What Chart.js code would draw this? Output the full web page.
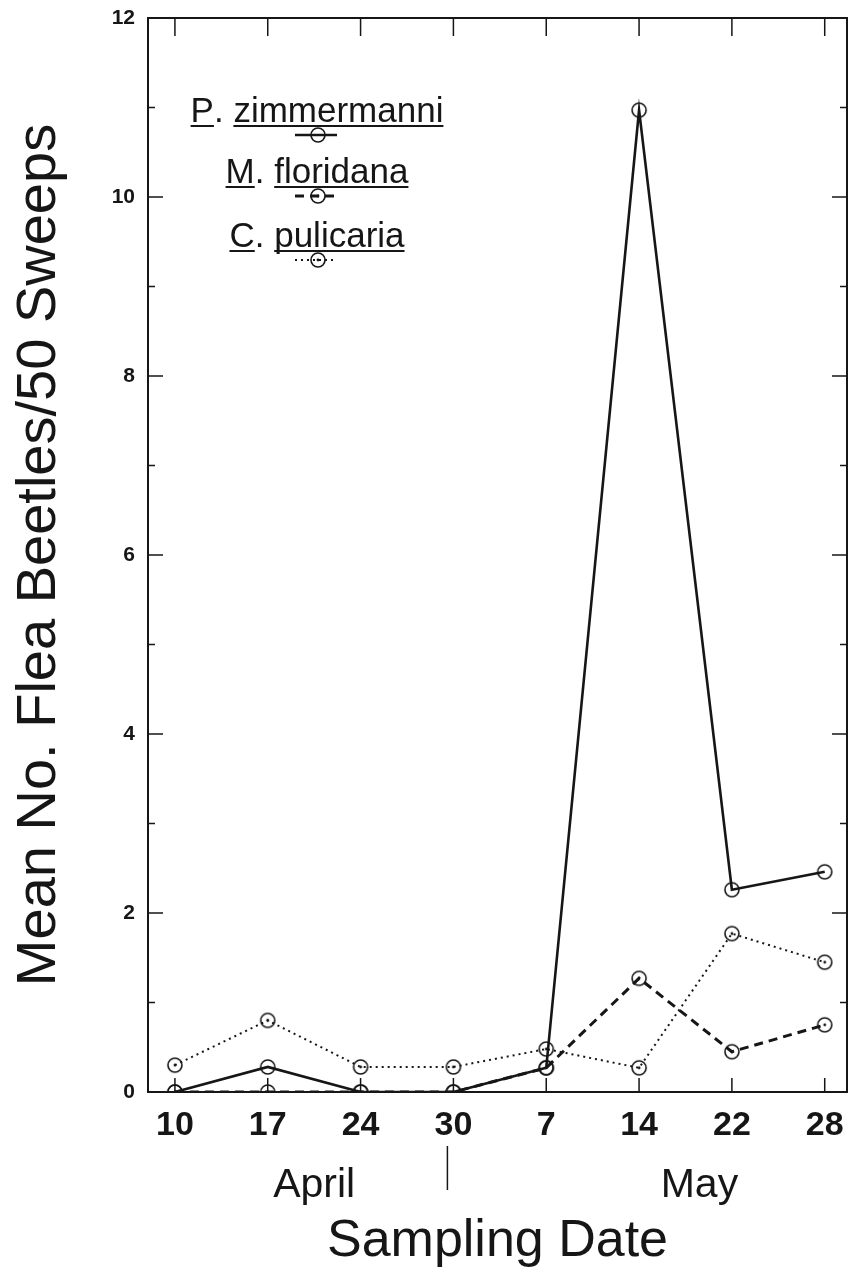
<!DOCTYPE html>
<html>
<head>
<meta charset="utf-8">
<script src="https://cdn.jsdelivr.net/npm/chart.js@4.4.1/dist/chart.umd.min.js"></script>
<style>
  html, body { margin: 0; padding: 0; background: #fff; }
  canvas { display: block; }
</style>
</head>
<body>
<canvas id="beetleChart" width="849" height="1273"></canvas>
<script>
const dates = ['10', '17', '24', '30', '7', '14', '22', '28'];
const months = ['April', 'May'];
const zimmermanni = [0, 0.28, 0, 0, 0.27, 10.97, 2.26, 2.46];
const floridana = [0, 0, 0, 0, 0.27, 1.27, 0.45, 0.75];
const pulicaria = [0.3, 0.8, 0.28, 0.28, 0.48, 0.27, 1.77, 1.45];
const yTicks = [0, 2, 4, 6, 8, 10, 12];

const INK = '#161616';
const FONT = "'Liberation Sans', Arial, Helvetica, sans-serif";

// open ring marker, optionally with a dot in the middle
function ringMarker(dot) {
  const c = document.createElement('canvas');
  c.width = 20; c.height = 20;
  const g = c.getContext('2d');
  g.strokeStyle = INK;
  g.lineWidth = 1.6;
  g.beginPath(); g.arc(10, 10, 7, 0, Math.PI * 2); g.stroke();
  if (dot) {
    g.fillStyle = INK;
    g.beginPath(); g.arc(10, 10, 1.4, 0, Math.PI * 2); g.fill();
  }
  return c;
}

const toPoints = vals => vals.map((v, i) => ({ x: i, y: v }));

// box, inward tick marks on all four sides
const frameTicks = {
  id: 'frameTicks',
  beforeDatasetsDraw(chart) {
    const { ctx, chartArea: a, scales: { x, y } } = chart;
    ctx.save();
    ctx.strokeStyle = INK;
    ctx.lineWidth = 2;
    ctx.strokeRect(a.left, a.top, a.right - a.left, a.bottom - a.top);
    ctx.lineWidth = 1.5;
    ctx.beginPath();
    dates.forEach((d, i) => {
      const px = x.getPixelForValue(i);
      ctx.moveTo(px, a.bottom); ctx.lineTo(px, a.bottom - 14);
      ctx.moveTo(px, a.top); ctx.lineTo(px, a.top + 18);
    });
    for (let v = 1; v < 12; v++) {
      const py = y.getPixelForValue(v);
      const len = v % 2 ? 7 : 15;
      ctx.moveTo(a.left, py); ctx.lineTo(a.left + len, py);
      ctx.moveTo(a.right, py); ctx.lineTo(a.right - len, py);
    }
    ctx.stroke();
    ctx.restore();
  }
};

// month names under the dates, split by a short rule after the 30th
const monthLabels = {
  id: 'monthLabels',
  afterDraw(chart) {
    const { ctx, scales: { x } } = chart;
    const centres = [1.5, 5.65];
    ctx.save();
    ctx.fillStyle = INK;
    ctx.font = '41px ' + FONT;
    ctx.textAlign = 'center';
    ctx.textBaseline = 'alphabetic';
    months.forEach((m, i) => ctx.fillText(m, x.getPixelForValue(centres[i]), 1197));
    const sx = x.getPixelForValue(3) - 6;
    ctx.strokeStyle = INK;
    ctx.lineWidth = 1.5;
    ctx.beginPath(); ctx.moveTo(sx, 1146); ctx.lineTo(sx, 1190); ctx.stroke();
    ctx.restore();
  }
};

// stacked key: underlined species name with a line sample below it
const speciesKey = {
  id: 'speciesKey',
  afterDraw(chart) {
    const { ctx, chartArea: a } = chart;
    const cx = a.left + 169;
    const baselines = [122, 183, 247];
    ctx.save();
    ctx.fillStyle = INK;
    ctx.strokeStyle = INK;
    ctx.font = '35px ' + FONT;
    ctx.textBaseline = 'alphabetic';
    ctx.textAlign = 'left';
    chart.data.datasets.forEach((ds, i) => {
      const yb = baselines[i];
      const [genus, species] = ds.label.split('. ');
      const parts = [genus, '. ', species];
      const w = parts.map(p => ctx.measureText(p).width);
      let xx = cx - (w[0] + w[1] + w[2]) / 2;
      parts.forEach((p, k) => {
        ctx.fillText(p, xx, yb);
        if (k !== 1) {
          ctx.lineWidth = 2;
          ctx.beginPath(); ctx.moveTo(xx, yb + 4); ctx.lineTo(xx + w[k], yb + 4); ctx.stroke();
        }
        xx += w[k];
      });
      const sy = yb + 13;
      ctx.lineWidth = ds.borderWidth;
      ctx.setLineDash(ds.borderDash || []);
      ctx.beginPath(); ctx.moveTo(cx - 22, sy); ctx.lineTo(cx + 20, sy); ctx.stroke();
      ctx.setLineDash([]);
      ctx.drawImage(ds.pointStyle, cx + 1 - 10, sy - 10);
    });
    ctx.restore();
  }
};

// markers are images, so a tiny radius keeps the layout from reserving room for them
const markerOpts = { pointRadius: 1, pointHoverRadius: 1, pointBorderWidth: 0, tension: 0 };

new Chart(document.getElementById('beetleChart'), {
  type: 'line',
  data: {
    datasets: [
      {
        label: 'P. zimmermanni',
        data: toPoints(zimmermanni),
        borderColor: INK,
        borderWidth: 2.6,
        pointStyle: ringMarker(false),
        ...markerOpts
      },
      {
        label: 'M. floridana',
        data: toPoints(floridana),
        borderColor: INK,
        borderWidth: 3,
        borderDash: [9, 6],
        pointStyle: ringMarker(true),
        ...markerOpts
      },
      {
        label: 'C. pulicaria',
        data: toPoints(pulicaria),
        borderColor: INK,
        borderWidth: 2,
        borderDash: [2, 4],
        pointStyle: ringMarker(true),
        ...markerOpts
      }
    ]
  },
  options: {
    responsive: false,
    animation: false,
    devicePixelRatio: 1,
    layout: { padding: { top: 18, right: 2, left: 0, bottom: 0 } },
    plugins: {
      legend: { display: false },
      tooltip: { enabled: false }
    },
    scales: {
      x: {
        type: 'linear',
        min: -0.29,
        max: 7.24,
        afterBuildTicks: s => { s.ticks = dates.map((d, i) => ({ value: i })); },
        afterFit: s => { s.height = 181; s.paddingLeft = 0; s.paddingRight = 0; },
        grid: { display: false, drawTicks: false },
        border: { display: false },
        ticks: {
          color: INK,
          padding: 13,
          maxRotation: 0,
          autoSkip: false,
          font: { family: FONT, size: 34, weight: 'bold' },
          callback: v => dates[v]
        },
        title: {
          display: true,
          text: 'Sampling Date',
          color: INK,
          font: { family: FONT, size: 52 },
          padding: { top: 0, bottom: 0 }
        }
      },
      y: {
        min: 0,
        max: 12,
        afterBuildTicks: s => { s.ticks = yTicks.map(v => ({ value: v })); },
        afterFit: s => { s.width = 148; s.paddingTop = 0; s.paddingBottom = 0; },
        grid: { display: false, drawTicks: false },
        border: { display: false },
        ticks: {
          color: INK,
          padding: 13,
          font: { family: FONT, size: 21, weight: 'bold' }
        },
        title: {
          display: true,
          text: 'Mean No. Flea Beetles/50 Sweeps',
          color: INK,
          font: { family: FONT, size: 56 },
          padding: { top: 6, bottom: 0 }
        }
      }
    }
  },
  plugins: [frameTicks, monthLabels, speciesKey]
});
</script>
</body>
</html>
